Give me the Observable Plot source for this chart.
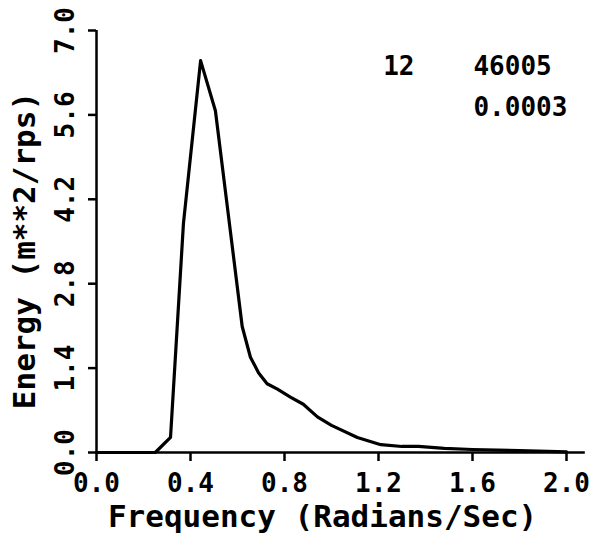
<!DOCTYPE html>
<html>
<head>
<meta charset="utf-8">
<script src="https://cdn.jsdelivr.net/npm/d3@7"></script>
<script src="https://cdn.jsdelivr.net/npm/@observablehq/plot@0.6"></script>
<style>
  html, body { margin: 0; padding: 0; background: #fff; }
</style>
</head>
<body>
<div id="chart"></div>
<script>
const freq   = [0, 0.25, 0.315, 0.37, 0.443, 0.506, 0.62, 0.655, 0.69, 0.726, 0.77, 0.825, 0.88, 0.94, 1.0, 1.11, 1.21, 1.3, 1.37, 1.48, 1.6, 1.8, 2.0];
const energy = [0, 0, 0.25, 3.8, 6.5, 5.67, 2.09, 1.58, 1.32, 1.14, 1.05, 0.92, 0.8, 0.59, 0.45, 0.25, 0.13, 0.1, 0.1, 0.07, 0.05, 0.03, 0.01];
const xTicks = [0, 0.4, 0.8, 1.2, 1.6, 2.0];
const yTicks = [0, 1.4, 2.8, 4.2, 5.6, 7.0];
const xLabel = "Frequency (Radians/Sec)";
const yLabel = "Energy (m**2/rps)";
const noteCase = ["12"];
const noteStation = ["46005"];
const noteValue = ["0.0003"];

const data = freq.map((f, i) => ({f, e: energy[i]}));
const fmt = d3.format(".1f");

const chart = Plot.plot({
  width: 590,
  height: 539,
  marginLeft: 96,
  marginRight: 24,
  marginTop: 30,
  marginBottom: 87,
  style: {fontFamily: "DejaVu Sans Mono", fontWeight: "bold", background: "#fff", color: "#000"},
  x: {domain: [0, 2]},
  y: {domain: [0, 7]},
  marks: [
    Plot.axisX({ticks: xTicks, tickSize: 9, tickPadding: 12, tickFormat: fmt, fontSize: 26, label: null, strokeWidth: 2.5}),
    Plot.axisY({ticks: yTicks, tickSize: 8, tickFormat: () => "", label: null, strokeWidth: 2.5}),
    Plot.text(yTicks, {y: d => d, frameAnchor: "left", dx: -31, rotate: -90, text: d => fmt(d), fontSize: 26, textAnchor: "middle", lineAnchor: "middle"}),
    Plot.ruleX([0], {y1: 0, y2: 7, strokeWidth: 2.5}),
    Plot.ruleY([0], {x1: 0, x2: 2.08, strokeWidth: 2.5}),
    Plot.line(data, {x: "f", y: "e", strokeWidth: 3.2, stroke: "#000", strokeLinejoin: "round"}),
    Plot.text([xLabel], {x: 0.962, frameAnchor: "bottom", dy: 65, text: d => d, fontSize: 31, textAnchor: "middle", lineAnchor: "middle"}),
    Plot.text([yLabel], {y: 3.35, frameAnchor: "left", dx: -71, rotate: -90, text: d => d, fontSize: 31, textAnchor: "middle", lineAnchor: "middle"}),
    Plot.text(noteCase, {x: 1.22, y: 6.4, text: d => d, fontSize: 26, textAnchor: "start", lineAnchor: "middle"}),
    Plot.text(noteStation, {x: 1.604, y: 6.4, text: d => d, fontSize: 26, textAnchor: "start", lineAnchor: "middle"}),
    Plot.text(noteValue, {x: 1.604, y: 5.72, text: d => d, fontSize: 26, textAnchor: "start", lineAnchor: "middle"})
  ]
});
document.getElementById("chart").appendChild(chart);
</script>
</body>
</html>
